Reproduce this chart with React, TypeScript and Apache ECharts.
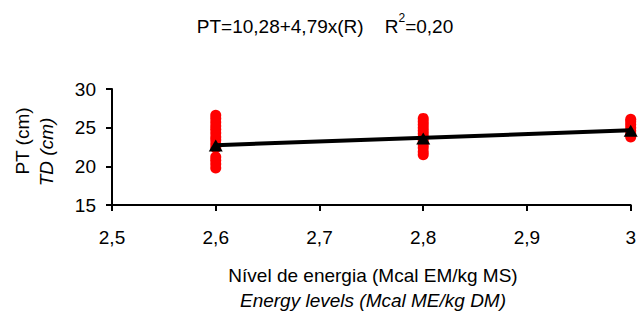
import React, { useEffect, useRef } from "react";
import * as echarts from "echarts";

const xLevels = [2.6, 2.8, 3.0];
const obs26 = [19.8, 20.3, 20.8, 21.2, 22.4, 22.9, 23.4, 23.8, 24.3, 24.8, 25.2, 25.7, 26.2, 26.6];
const obs28 = [21.5, 21.9, 22.4, 22.8, 23.3, 23.8, 24.2, 24.6, 25.0, 25.4, 25.8, 26.2];
const obs30 = [23.8, 24.2, 24.6, 25.0, 25.4, 25.8, 26.1];
const means = [22.7, 23.6, 24.6];
const regX = [2.6, 3.0];
const regY = [22.73, 24.65];

const FONT = "Liberation Sans, Arial, sans-serif";
const FS = 19;
const fmt = (v: number) => String(Math.round(v * 10) / 10).replace(".", ",");

export default function App() {
  const ref = useRef<HTMLDivElement>(null);
  useEffect(() => {
    if (!ref.current) return;
    const chart = echarts.init(ref.current, null, { renderer: "svg" });
    const obsData: number[][] = [];
    [obs26, obs28, obs30].forEach((arr, i) => arr.forEach((v) => obsData.push([xLevels[i], v])));
    chart.setOption({
      animation: false,
      backgroundColor: "#fff",
      textStyle: { fontFamily: FONT },
      grid: { left: 112, right: 6, top: 89, bottom: 108, containLabel: false },
      xAxis: {
        type: "value",
        min: 2.5,
        max: 3.0,
        interval: 0.1,
        axisLine: { show: true, lineStyle: { color: "#000", width: 2 } },
        axisTick: { show: true, length: 6, lineStyle: { color: "#000", width: 2 } },
        axisLabel: { color: "#000", fontSize: FS, fontFamily: FONT, margin: 23, formatter: fmt },
        splitLine: { show: false },
      },
      yAxis: {
        type: "value",
        min: 15,
        max: 30,
        interval: 5,
        axisLine: { show: true, lineStyle: { color: "#000", width: 2 } },
        axisTick: { show: true, length: 6, lineStyle: { color: "#000", width: 2 } },
        axisLabel: { color: "#000", fontSize: FS, fontFamily: FONT, margin: 16 },
        splitLine: { show: false },
      },
      series: [
        {
          type: "scatter",
          data: obsData,
          symbol: "circle",
          symbolSize: 11,
          itemStyle: { color: "#ff0000", opacity: 1 },
          z: 2,
        },
        {
          type: "line",
          data: regX.map((x, i) => [x, regY[i]]),
          symbol: "none",
          lineStyle: { color: "#000", width: 4 },
          z: 3,
        },
        {
          type: "scatter",
          data: xLevels.map((x, i) => [x, means[i]]),
          symbol: "triangle",
          symbolSize: [14, 12],
          itemStyle: { color: "#000", opacity: 1 },
          z: 4,
        },
      ],
      graphic: [
        {
          type: "text",
          x: 325,
          y: 24,
          style: {
            text: "{a|PT=10,28+4,79x(R)    R}{s|2}{a|=0,20}",
            align: "center",
            verticalAlign: "middle",
            rich: {
              a: { fontSize: FS, fill: "#000", fontFamily: FONT, verticalAlign: "bottom", lineHeight: 24 },
              s: { fontSize: 12, fill: "#000", fontFamily: FONT, verticalAlign: "top", lineHeight: 24, padding: [0, 0, 10, 0] },
            },
          },
        },
        {
          type: "text",
          x: 22,
          y: 141,
          rotation: Math.PI / 2,
          style: { text: "PT (cm)", fontSize: FS, fill: "#000", fontFamily: FONT, align: "center", verticalAlign: "middle" },
        },
        {
          type: "text",
          x: 46,
          y: 152,
          rotation: Math.PI / 2,
          style: { text: "TD (cm)", fontSize: FS, fontStyle: "italic", fill: "#000", fontFamily: FONT, align: "center", verticalAlign: "middle" },
        },
        {
          type: "text",
          x: 373,
          y: 275,
          style: { text: "Nível de energia (Mcal EM/kg MS)", fontSize: FS, fill: "#000", fontFamily: FONT, align: "center", verticalAlign: "middle" },
        },
        {
          type: "text",
          x: 373,
          y: 300,
          style: { text: "Energy levels (Mcal ME/kg DM)", fontSize: FS, fontStyle: "italic", fill: "#000", fontFamily: FONT, align: "center", verticalAlign: "middle" },
        },
      ],
    });
    return () => chart.dispose();
  }, []);
  return <div ref={ref} style={{ width: 639, height: 313, position: "absolute", left: 0, top: 0 }} />;
}
